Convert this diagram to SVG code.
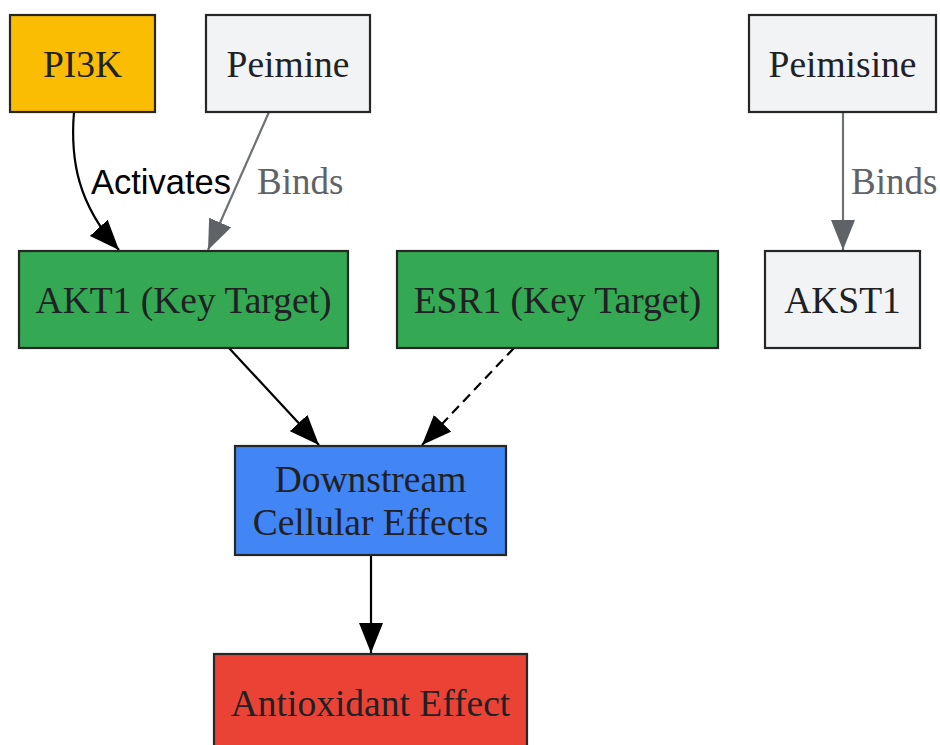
<svg xmlns="http://www.w3.org/2000/svg" width="940" height="745" viewBox="0 0 940 745">
<style>
.n{stroke:#262626;stroke-width:2.2}
.t{font-family:"Liberation Serif","Times New Roman",serif;font-size:37.5px;fill:#202124;text-anchor:middle}
.e{fill:none;stroke:#000;stroke-width:2.2}
.g{fill:none;stroke:#6e7175;stroke-width:2.2}
.lb{font-family:"Liberation Sans",Arial,sans-serif;font-size:34.5px;fill:#000}
.lg{font-family:"Liberation Serif","Times New Roman",serif;font-size:37px;fill:#5f6368}
</style>
<defs>
<marker id="ab" markerUnits="userSpaceOnUse" markerWidth="30" markerHeight="24" refX="30" refY="12" orient="auto"><path d="M0,0 L30,12 L0,24 z" fill="#000"/></marker>
<marker id="ag" markerUnits="userSpaceOnUse" markerWidth="30" markerHeight="24" refX="30" refY="12" orient="auto"><path d="M0,0 L30,12 L0,24 z" fill="#5f6368"/></marker>
</defs>
<rect width="940" height="745" fill="#fff"/>
<g id="edges">
<path class="e" d="M74,112 C70,160 78,205 119,250" marker-end="url(#ab)"/>
<text class="lb" x="91" y="194">Activates</text>
<path class="g" d="M269,112 L208,250" marker-end="url(#ag)"/>
<text class="lg" x="257" y="194">Binds</text>
<path class="g" d="M843,112 L843,250" marker-end="url(#ag)"/>
<text class="lg" x="851" y="194">Binds</text>
<path class="e" d="M229,348 L319,445" marker-end="url(#ab)"/>
<path class="e" d="M514,348 L422,445" stroke-dasharray="10,6" marker-end="url(#ab)"/>
<path class="e" d="M371,555 L371,653" marker-end="url(#ab)"/>
</g>
<g id="PI3K"><rect class="n" x="10" y="15" width="145" height="97" fill="#fbbc04"/><text class="t" x="82.5" y="77">PI3K</text></g>
<g id="Peimine"><rect class="n" x="206" y="15" width="164" height="97" fill="#f1f3f4"/><text class="t" x="288" y="77">Peimine</text></g>
<g id="Peimisine"><rect class="n" x="749" y="15" width="187" height="97" fill="#f1f3f4"/><text class="t" x="842.5" y="77">Peimisine</text></g>
<g id="AKT1"><rect class="n" x="19" y="251" width="329" height="97" fill="#34a853"/><text class="t" x="183.5" y="313">AKT1 (Key Target)</text></g>
<g id="ESR1"><rect class="n" x="397" y="251" width="321" height="97" fill="#34a853"/><text class="t" x="557.5" y="313">ESR1 (Key Target)</text></g>
<g id="AKST1"><rect class="n" x="765" y="251" width="155" height="97" fill="#f1f3f4"/><text class="t" x="842.5" y="313">AKST1</text></g>
<g id="Downstream"><rect class="n" x="235" y="446" width="271" height="109" fill="#4285f4"/><text class="t" x="370.5" y="492">Downstream</text><text class="t" x="370.5" y="535">Cellular Effects</text></g>
<g id="Antioxidant"><rect class="n" x="214" y="654" width="313" height="100" fill="#ea4335"/><text class="t" x="370.5" y="716">Antioxidant Effect</text></g>
</svg>
